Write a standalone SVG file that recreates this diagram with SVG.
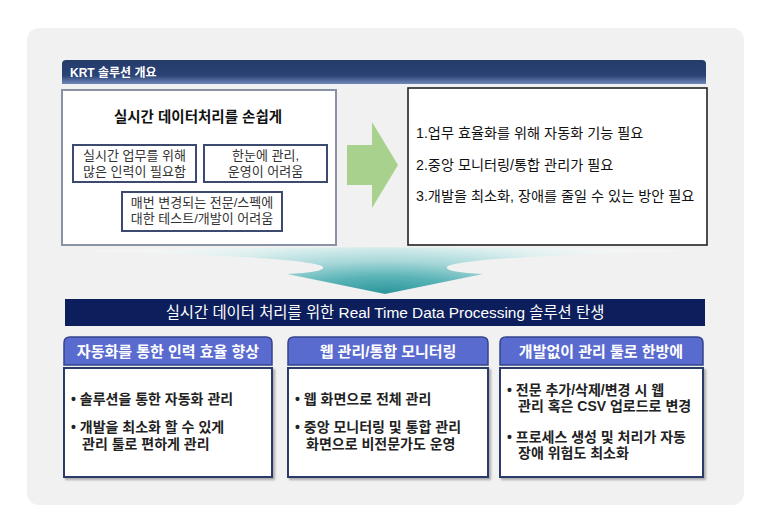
<svg xmlns="http://www.w3.org/2000/svg" width="770" height="527" viewBox="0 0 770 527">
<defs>
<linearGradient id="hdr" x1="0" y1="0" x2="0" y2="1">
<stop offset="0" stop-color="#253b6a"/>
<stop offset="0.65" stop-color="#2a4276"/>
<stop offset="1" stop-color="#7089b8"/>
</linearGradient>
<radialGradient id="funnel" gradientUnits="userSpaceOnUse" cx="385" cy="292" r="310" gradientTransform="translate(385,292) scale(1,0.2) translate(-385,-292)">
<stop offset="0" stop-color="#2e979d"/>
<stop offset="0.25" stop-color="#5ab4b7"/>
<stop offset="0.5" stop-color="#a9d8d9"/>
<stop offset="0.75" stop-color="#dcefef"/>
<stop offset="1" stop-color="#f6f9f9" stop-opacity="0.5"/>
</radialGradient>
<filter id="sh" x="-5%" y="-5%" width="115%" height="120%">
<feDropShadow dx="2" dy="2" stdDeviation="1.2" flood-color="#7a7a7a" flood-opacity="0.6"/>
</filter>
<style>
.ko{font-family:"Liberation Sans","Noto Sans CJK KR",sans-serif;}
.box{fill:#ffffff;stroke:#3c4a70;stroke-width:2;}
.bt{font-size:13px;fill:#333333;text-anchor:middle;}
.rt{font-size:14.2px;fill:#111111;}
.tab{fill:#5a6bcf;stroke:#34448a;stroke-width:1.5;}
.tt{font-size:15px;font-weight:bold;fill:#ffffff;text-anchor:middle;}
.body{fill:#ffffff;stroke:#2c3b6b;stroke-width:2;}
.bl{font-size:14px;font-weight:bold;fill:#222222;}
</style>
</defs>
<rect x="0" y="0" width="770" height="527" fill="#ffffff"/>
<rect x="27" y="28" width="717" height="477" rx="12" fill="#f1f1f1"/>

<g id="header">
<path d="M62,84 L62,64 Q62,60 66,60 L702,60 Q706,60 706,64 L706,84 Z" fill="url(#hdr)"/>
<text class="ko" x="70" y="77" font-size="12" font-weight="bold" fill="#ffffff">KRT 솔루션 개요</text>
</g>

<g id="left-panel">
<rect x="62" y="90" width="274" height="155" fill="#ffffff" stroke="#8a92a6" stroke-width="2"/>
<text class="ko" x="198" y="122" font-size="14.5" font-weight="bold" fill="#111111" text-anchor="middle">실시간 데이터처리를 손쉽게</text>
</g>
<g id="problem-1">
<rect class="box" x="73" y="145" width="123" height="37"/>
<text class="ko bt" x="134.5" y="160">실시간 업무를 위해<tspan x="134.5" dy="16">많은 인력이 필요함</tspan></text>
</g>
<g id="problem-2">
<rect class="box" x="204" y="145" width="123" height="37" stroke="#4a5676"/>
<text class="ko bt" x="265.5" y="160">한눈에 관리,<tspan x="265.5" dy="16">운영이 어려움</tspan></text>
</g>
<g id="problem-3">
<rect class="box" x="122" y="192" width="160" height="39" stroke="#5a6070" stroke-width="1.6"/>
<text class="ko bt" x="202" y="207">매번 변경되는 전문/스펙에<tspan x="202" dy="16">대한 테스트/개발이 어려움</tspan></text>
</g>

<g id="connectors">
<polygon points="347,145 372,145 372,122 398,165 372,208 372,185 347,185" fill="#a9d18e"/>
<path d="M80,251 C300,246 480,246 690,251 C560,255 470,258 448,266 Q440,272 483,274 L385,294 L287,274 Q330,272 322,266 C300,258 210,255 80,251 Z" fill="url(#funnel)"/>
</g>

<g id="needs">
<rect x="408" y="88" width="299" height="157" fill="#ffffff" stroke="#222222" stroke-width="1.6"/>
<text class="ko rt" x="416" y="138">1.업무 효율화를 위해 자동화 기능 필요</text>
<text class="ko rt" x="416" y="170">2.중앙 모니터링/통합 관리가 필요</text>
<text class="ko rt" x="416" y="201">3.개발을 최소화, 장애를 줄일 수 있는 방안 필요</text>
</g>

<g id="banner">
<rect x="65" y="299" width="640" height="27" fill="#0c1e5b"/>
<text class="ko" x="385" y="318" font-size="15.4" fill="#ffffff" text-anchor="middle">실시간 데이터 처리를 위한 Real Time Data Processing 솔루션  탄생</text>
</g>

<g id="feature-1">
<path class="tab" d="M64,365 L64,343 Q64,337 70,337 L266,337 Q272,337 272,343 L272,365 Z"/>
<text class="ko tt" x="168" y="357">자동화를 통한 인력 효율 향상</text>
<rect class="body" x="64" y="368" width="208" height="109" filter="url(#sh)"/>
<text class="ko bl" x="71" y="404">• 솔루션을 통한 자동화 관리</text>
<text class="ko bl" x="71" y="432">• 개발을 최소화 할 수 있게<tspan x="82" dy="17">관리 툴로 편하게 관리</tspan></text>
</g>

<g id="feature-2">
<path class="tab" d="M288,365 L288,343 Q288,337 294,337 L482,337 Q488,337 488,343 L488,365 Z"/>
<text class="ko tt" x="388" y="357">웹 관리/통합 모니터링</text>
<rect class="body" x="288" y="368" width="200" height="109" filter="url(#sh)"/>
<text class="ko bl" x="295" y="404">• 웹 화면으로 전체 관리</text>
<text class="ko bl" x="295" y="432">• 중앙 모니터링 및 통합 관리<tspan x="306" dy="17">화면으로 비전문가도 운영</tspan></text>
</g>

<g id="feature-3">
<path class="tab" d="M500,365 L500,343 Q500,337 506,337 L697,337 Q703,337 703,343 L703,365 Z"/>
<text class="ko tt" x="601" y="357">개발없이 관리 툴로 한방에</text>
<rect class="body" x="500" y="368" width="203" height="109" filter="url(#sh)"/>
<text class="ko bl" x="507" y="395">• 전문 추가/삭제/변경 시 웹<tspan x="518" dy="16">관리 혹은 CSV 업로드로 변경</tspan></text>
<text class="ko bl" x="507" y="442">• 프로세스 생성 및 처리가 자동<tspan x="518" dy="16">장애 위험도 최소화</tspan></text>
</g>
</svg>
